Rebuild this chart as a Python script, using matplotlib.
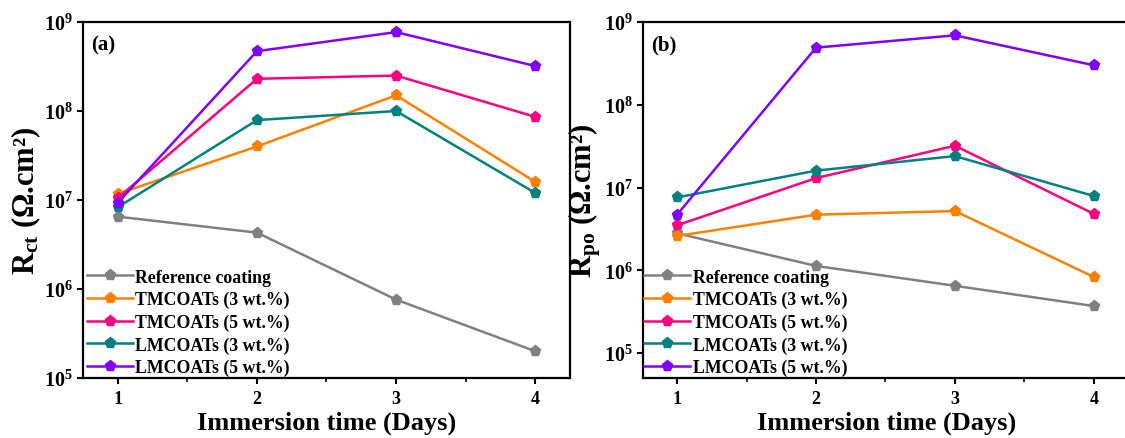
import matplotlib
matplotlib.use("Agg")
import matplotlib.pyplot as plt
from matplotlib.ticker import LogLocator, NullLocator, MultipleLocator, LogFormatterMathtext

plt.rcParams['font.family'] = ['Liberation Serif', 'DejaVu Serif']
plt.rcParams['font.weight'] = 'bold'
plt.rcParams['mathtext.fontset'] = 'custom'
plt.rcParams['mathtext.rm'] = 'Liberation Serif:bold'
plt.rcParams['mathtext.it'] = 'Liberation Serif:bold'
plt.rcParams['mathtext.bf'] = 'Liberation Serif:bold'

days = [1, 2, 3, 4]
labels = ["Reference coating", "TMCOATs (3 wt.%)", "TMCOATs (5 wt.%)",
          "LMCOATs (3 wt.%)", "LMCOATs (5 wt.%)"]
colors = ["#808080", "#FF8000", "#FF0080", "#008080", "#8000FF"]

rct_reference = [6.5e6, 4.3e6, 7.6e5, 2.0e5]
rct_tm3 = [1.17e7, 4.0e7, 1.5e8, 1.6e7]
rct_tm5 = [1.05e7, 2.3e8, 2.5e8, 8.6e7]
rct_lm3 = [8.3e6, 7.9e7, 1.0e8, 1.2e7]
rct_lm5 = [9.3e6, 4.7e8, 7.7e8, 3.2e8]

rpo_reference = [2.8e6, 1.13e6, 6.5e5, 3.7e5]
rpo_tm3 = [2.6e6, 4.7e6, 5.2e6, 8.3e5]
rpo_tm5 = [3.5e6, 1.3e7, 3.2e7, 4.8e6]
rpo_lm3 = [7.6e6, 1.6e7, 2.4e7, 7.9e6]
rpo_lm5 = [4.7e6, 4.9e8, 6.9e8, 3.0e8]

rct_series = [rct_reference, rct_tm3, rct_tm5, rct_lm3, rct_lm5]
rpo_series = [rpo_reference, rpo_tm3, rpo_tm5, rpo_lm3, rpo_lm5]

W, H = 1125, 439
fig = plt.figure(figsize=(W / 100, H / 100), dpi=100)

def px_axes(x0, x1, y_top, y_bot):
    return fig.add_axes([x0 / W, 1 - y_bot / H, (x1 - x0) / W, (y_bot - y_top) / H])

axL = px_axes(83, 570, 23, 379)
axR = px_axes(643, 1130, 23, 379)

def style(ax, series, ylim, xlim, ylabel, tag, ylabel_pad, leg_x):
    for vals, lab, c in zip(series, labels, colors):
        ax.plot(days, vals, color=c, lw=1.8, marker='p', ms=8, label=lab)
    ax.set_yscale('log')
    ax.set_ylim(*ylim)
    ax.set_xlim(*xlim)
    ax.yaxis.set_major_locator(LogLocator(base=10, numticks=10))
    ax.yaxis.set_major_formatter(LogFormatterMathtext())
    ax.yaxis.set_minor_locator(NullLocator())
    ax.xaxis.set_major_locator(MultipleLocator(1))
    ax.xaxis.set_minor_locator(MultipleLocator(0.5))
    for s in ax.spines.values():
        s.set_linewidth(1.6)
    ax.tick_params(which='major', direction='out', length=4.5, width=1.5, pad=4)
    ax.tick_params(axis='x', labelsize=13)
    ax.tick_params(axis='y', labelsize=14.5, pad=2.5)
    ax.tick_params(which='minor', direction='out', length=3, width=1.2)
    ax.set_xlabel("Immersion time (Days)", fontsize=19, fontweight='bold', labelpad=3)
    ax.set_ylabel(ylabel, fontsize=22, fontweight='bold', labelpad=ylabel_pad)
    ax.text(0.016, 0.965, tag, transform=ax.transAxes, fontsize=15,
            fontweight='bold', va='top', ha='left')
    ax.legend(loc='lower left', bbox_to_anchor=(leg_x, -0.005), frameon=False,
              prop={'weight': 'bold', 'size': 12.8},
              handlelength=2.6, handletextpad=0.15, labelspacing=0.3,
              borderaxespad=0.0, borderpad=0.2)

style(axL, rct_series, (1e5, 1e9), (0.75, 4.25),
      r"R$_{\mathbf{ct}}$ (Ω.cm²)", "(a)", 1, 0.0)
style(axR, rpo_series, (5e4, 1e9), (0.755, 4.26),
      r"R$_{\mathbf{po}}$ (Ω.cm²)", "(b)", 1, -0.006)

fig.savefig("out.png", dpi=100)
